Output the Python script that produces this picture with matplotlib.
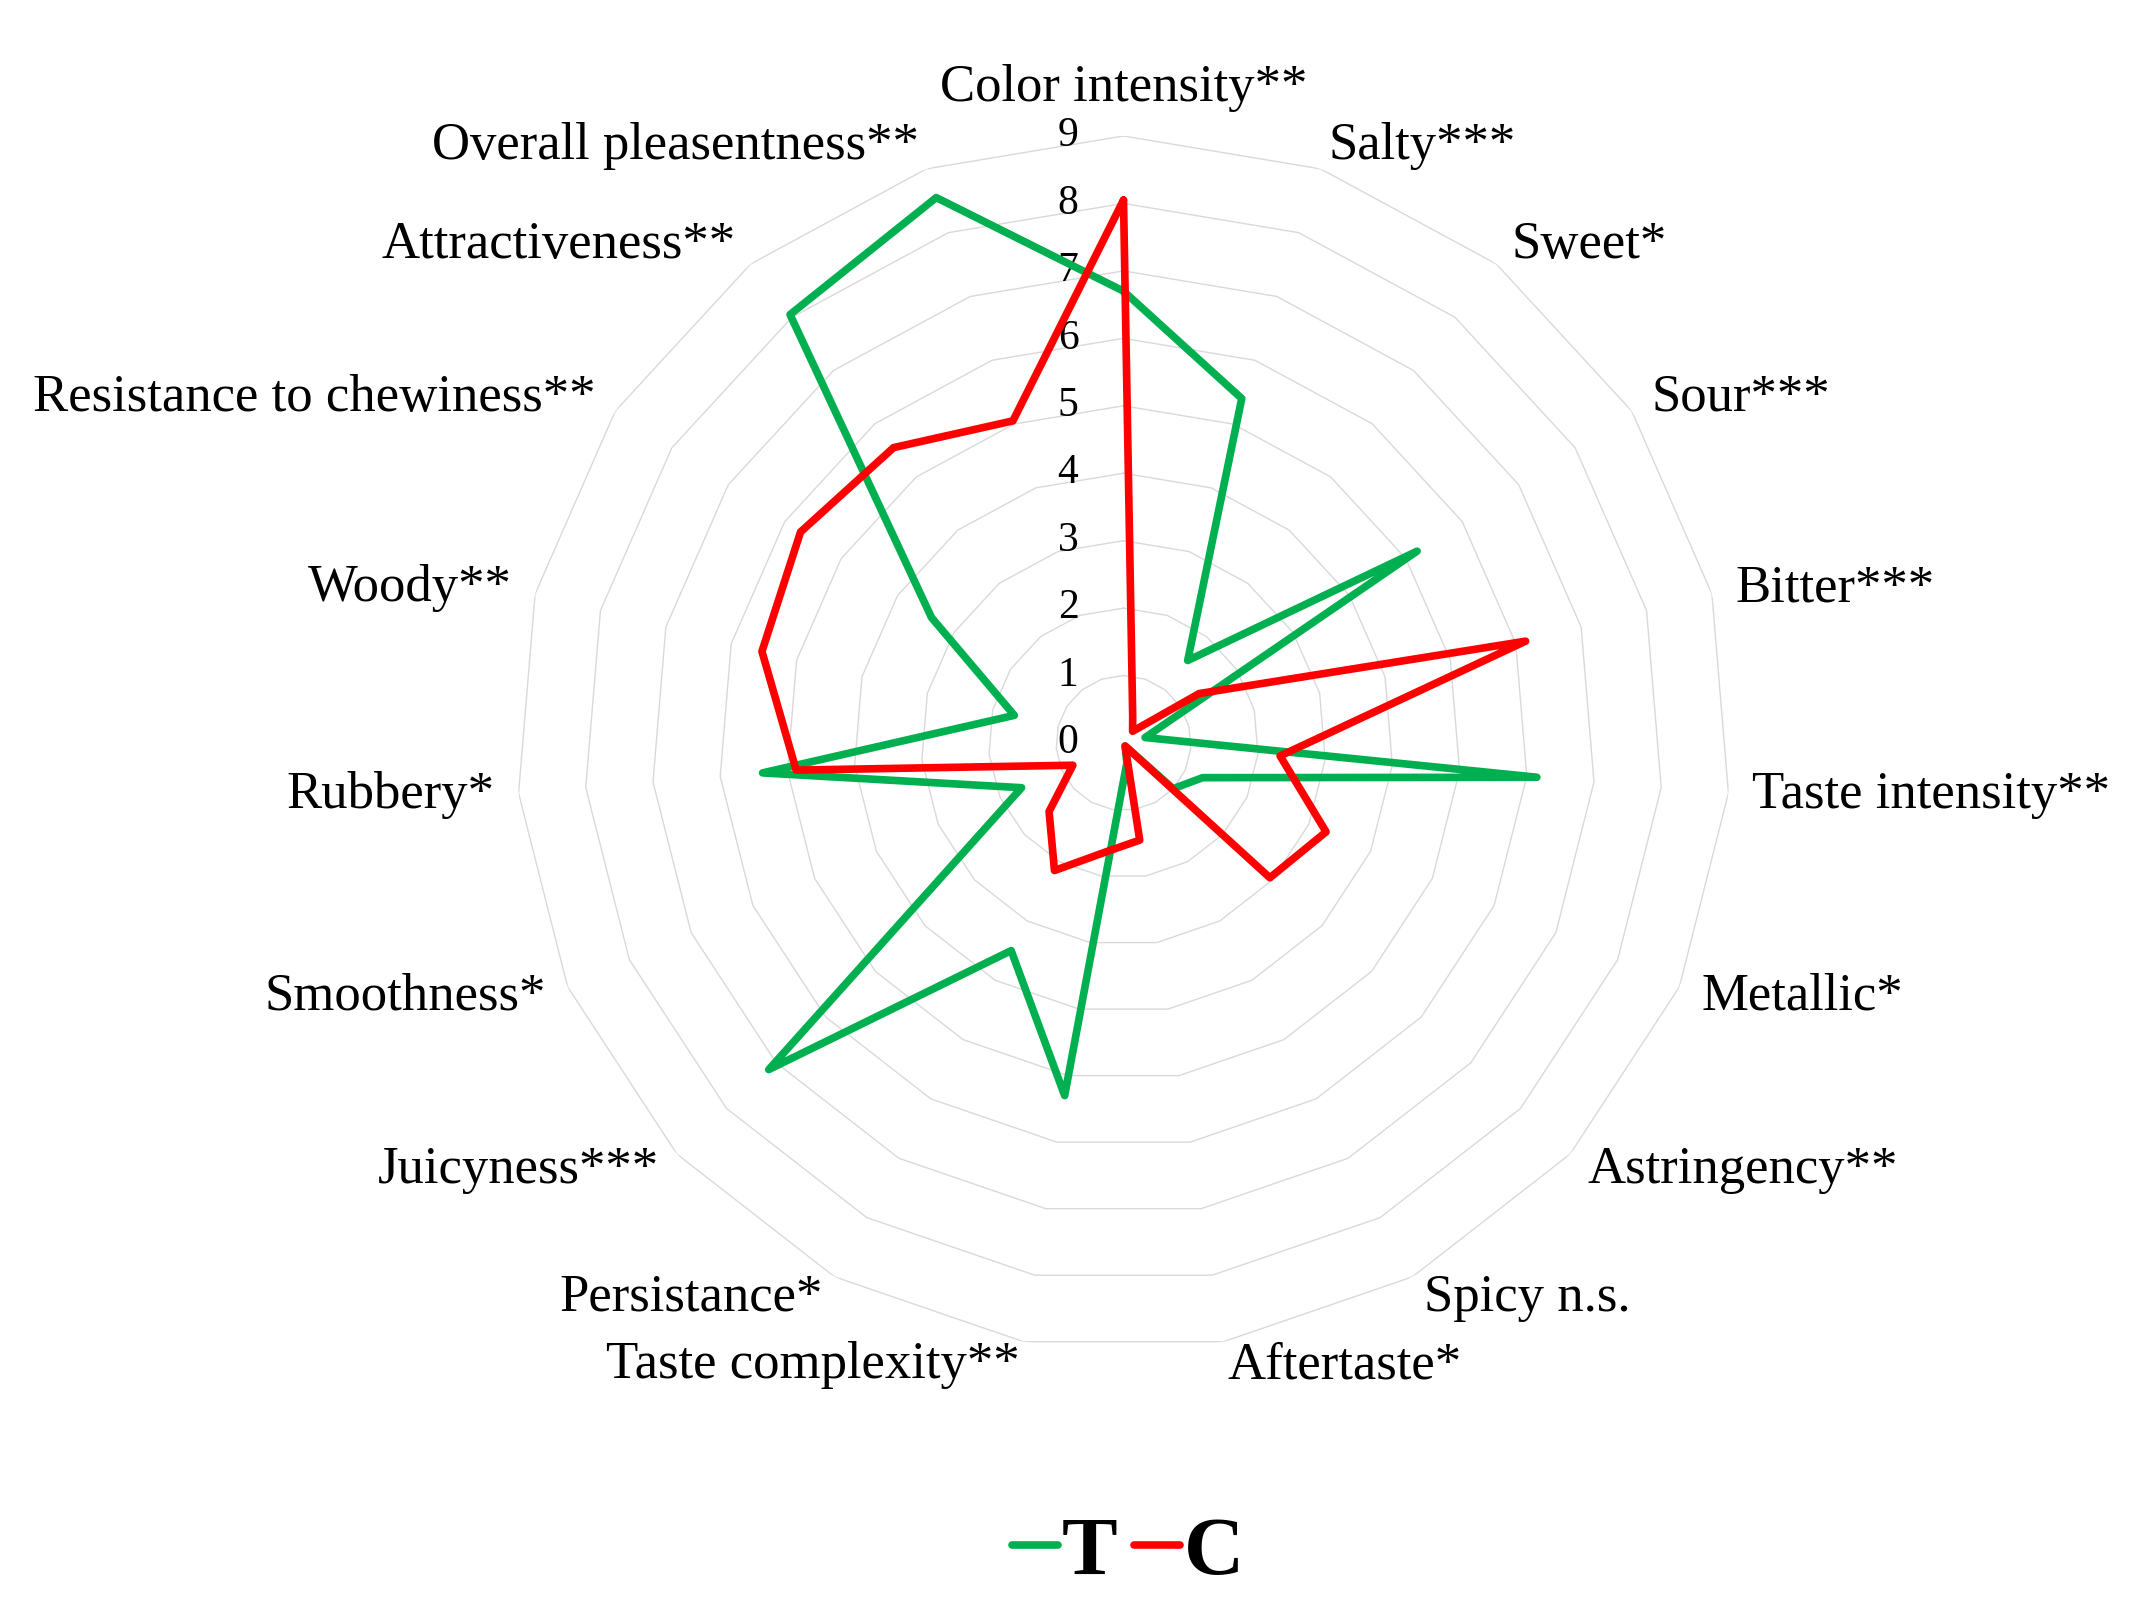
import numpy as np
import matplotlib.pyplot as plt
from matplotlib.transforms import offset_copy

plt.rcParams['font.family'] = ['Liberation Serif', 'DejaVu Serif']

categories = ['Color intensity**', 'Salty***', 'Sweet*', 'Sour***', 'Bitter***',
              'Taste intensity**', 'Metallic*', 'Astringency**', 'Spicy n.s.',
              'Aftertaste*', 'Taste complexity**', 'Persistance*', 'Juicyness***',
              'Smoothness*', 'Rubbery*', 'Woody**', 'Resistance to chewiness**',
              'Attractiveness**', 'Overall pleasentness**']
t_values = [6.7, 5.4, 1.55, 5.2, 0.33, 6.15, 1.28, 1.0, 0.05, 0.3,
            5.3, 3.5, 7.15, 1.65, 5.37, 1.67, 3.4, 8.05, 8.55]
c_values = [8.05, 0.42, 0.22, 1.34, 6.15, 2.33, 3.28, 2.95, 0.05, 1.46,
            1.64, 2.15, 1.5, 0.82, 4.87, 5.53, 5.72, 5.55, 5.05]
levels = list(range(0, 10))
series_names = ['T', 'C']
series_colors = ['#00B050', '#FF0000']

W, H = 2135, 1597
fig = plt.figure(figsize=(W / 100, H / 100), dpi=100)

# polar axes placed so the centre and radius match the reference
cx, cy, R = 1123.5, 743, 607
ax = fig.add_axes([(cx - R) / W, (H - cy - R) / H, 2 * R / W, 2 * R / H],
                  projection='polar')
ax.set_theta_zero_location('N')
ax.set_theta_direction(-1)
ax.set_ylim(0, 9)
ax.grid(False)
ax.spines['polar'].set_visible(False)
ax.set_xticks([])
ax.set_yticks([])
ax.patch.set_visible(False)

n = len(categories)
angles = np.linspace(0, 2 * np.pi, n, endpoint=False)
closed = np.append(angles, angles[0])

# polygon rings
for lv in levels[1:]:
    ax.plot(closed, [lv] * (n + 1), color='#d9d9d9', lw=1.0, zorder=1)

handles = []
for vals, name, col in zip([t_values, c_values], series_names, series_colors):
    line, = ax.plot(closed, vals + vals[:1], color=col, lw=5.5, zorder=3,
                    solid_joinstyle='round', solid_capstyle='round',
                    label=name, clip_on=False)
    handles.append(line)

# radial tick labels
tick_tr = offset_copy(ax.transData, fig=fig, x=-45, y=0, units='dots')
for lv in levels:
    ax.text(0, lv, str(lv), transform=tick_tr, ha='right', va='center',
            fontsize=30, zorder=2)

# category labels
for ang, lab in zip(angles, categories):
    s, c = np.sin(ang), np.cos(ang)
    tr = offset_copy(ax.transData, fig=fig, x=24 * s, y=24 * c, units='dots')
    if s > 0.05:
        ha = 'left'
    elif s < -0.05:
        ha = 'right'
    else:
        ha = 'center'
    va = 'bottom' if c > 0.99 else 'center'
    ax.text(ang, 9, lab, transform=tr, ha=ha, va=va, fontsize=38)

fig.legend(handles=handles, labels=series_names, loc='center',
           bbox_to_anchor=(1128 / W, 1 - 1554 / H), ncol=2, frameon=False,
           prop={'family': 'Liberation Serif', 'weight': 'bold', 'size': 60},
           handlelength=0.55, handletextpad=0.05, columnspacing=0.2)

fig.savefig('out.png', dpi=100, facecolor='white')
